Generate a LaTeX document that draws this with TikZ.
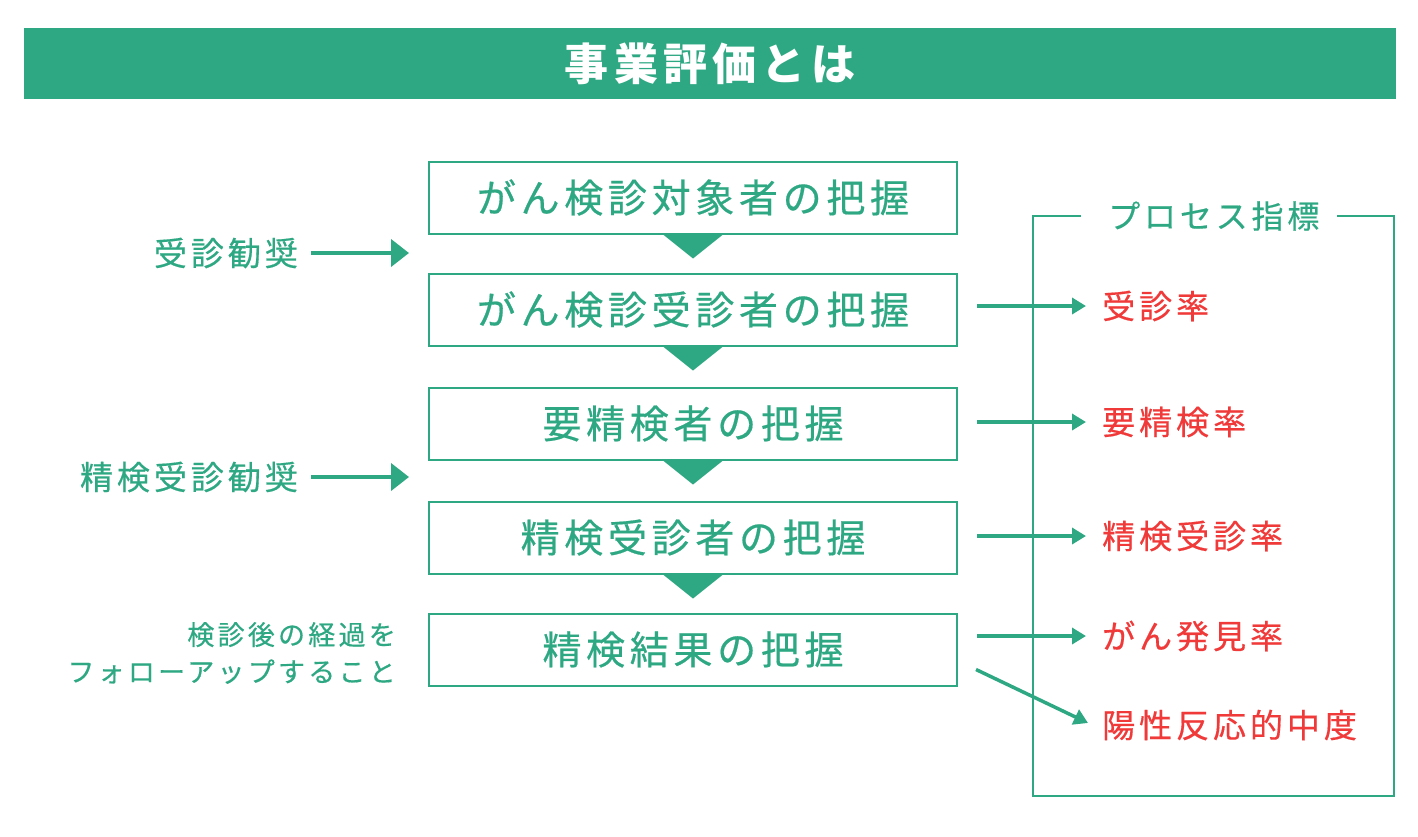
\documentclass[tikz,border=0pt]{standalone}
\usepackage{fontspec}
\setmainfont{Noto Sans CJK JP}
\newfontfamily\boxfont[LetterSpace=12,FakeBold=0.5]{Noto Sans CJK JP}
\newfontfamily\labfont[LetterSpace=12,FakeBold=0.5]{Noto Sans CJK JP}
\newfontfamily\titlefont[LetterSpace=12]{Noto Sans CJK JP}
\usetikzlibrary{arrows.meta,calc}
\definecolor{evgreen}{RGB}{46,168,130}
\definecolor{evred}{RGB}{240,58,58}
\tikzset{
  stepbox/.style={draw=evgreen,line width=2pt,minimum width=528pt,minimum height=72pt,inner sep=0pt,text=evgreen,font=\boxfont\fontsize{39}{40}\selectfont},
  sidelab/.style={anchor=east,inner sep=0pt,text=evgreen,font=\labfont\fontsize{33}{36}\selectfont},
  rate/.style={anchor=west,inner sep=0pt,text=evred,font=\labfont\fontsize{33}{36}\selectfont},
  bigarr/.style={evgreen,line width=4pt,-{Triangle[length=18pt,width=27pt]}},
  arr/.style={evgreen,line width=3.5pt,-{Triangle[length=14pt,width=16pt]}},
  frame/.style={evgreen,line width=2pt}
}
\begin{document}
\begin{tikzpicture}[x=1pt,y=-1pt]
\useasboundingbox (0,0) rectangle (1418,836);
\node[fill=evgreen,minimum width=1372pt,minimum height=71pt,inner sep=0pt,text=white,font=\titlefont\bfseries\fontsize{44}{48}\selectfont] (title) at (710,63.5) {事業評価とは};
\node[stepbox] (box1) at (693,197.5) {がん検診対象者の把握};
\node[stepbox] (box2) at (693,309.5) {がん検診受診者の把握};
\node[stepbox] (box3) at (693,423.5) {要精検者の把握};
\node[stepbox] (box4) at (693,537.5) {精検受診者の把握};
\node[stepbox] (box5) at (693,649.5) {精検結果の把握};
\foreach \b in {1,...,4}
  \fill[evgreen] ([xshift=-30pt]box\b.south) -- ([xshift=30pt]box\b.south) -- ([yshift=-24pt]box\b.south) -- cycle;
\node[sidelab] (lab1) at (298,253) {受診勧奨};
\node[sidelab] (lab2) at (298,477) {精検受診勧奨};
\node[sidelab,align=right,font=\labfont\fontsize{27}{37}\selectfont] (lab3) at (396,653) {検診後の経過を\\フォローアップすること};
\coordinate (gap1) at (409,253);
\coordinate (gap2) at (409,477);
\draw[bigarr] ([xshift=13pt]lab1.east) -- (gap1);
\draw[bigarr] ([xshift=13pt]lab2.east) -- (gap2);
\node[anchor=west,inner sep=0pt,text=evgreen,font=\labfont\fontsize{32}{36}\selectfont] (proc) at (1108,216) {プロセス指標};
\draw[frame] ([xshift=-27pt]proc.west) -| (1033,796) -| (1394,216) -- ([xshift=17pt]proc.east);
\node[rate] (rate1) at (1102,306) {受診率};
\node[rate] (rate2) at (1102,422) {要精検率};
\node[rate] (rate3) at (1102,536) {精検受診率};
\node[rate] (rate4) at (1102,636) {がん発見率};
\node[rate] (rate5) at (1102,725) {陽性反応的中度};
\foreach \i in {1,...,4}
  \draw[arr] ($(box\i.east |- rate\i.west)+(19,0)$) -- ([xshift=-16pt]rate\i.west);
\draw[arr] ($(box5.south east)+(18,-17)$) -- ([shift={(-14pt,2pt)}]rate5.west);
\end{tikzpicture}
\end{document}
